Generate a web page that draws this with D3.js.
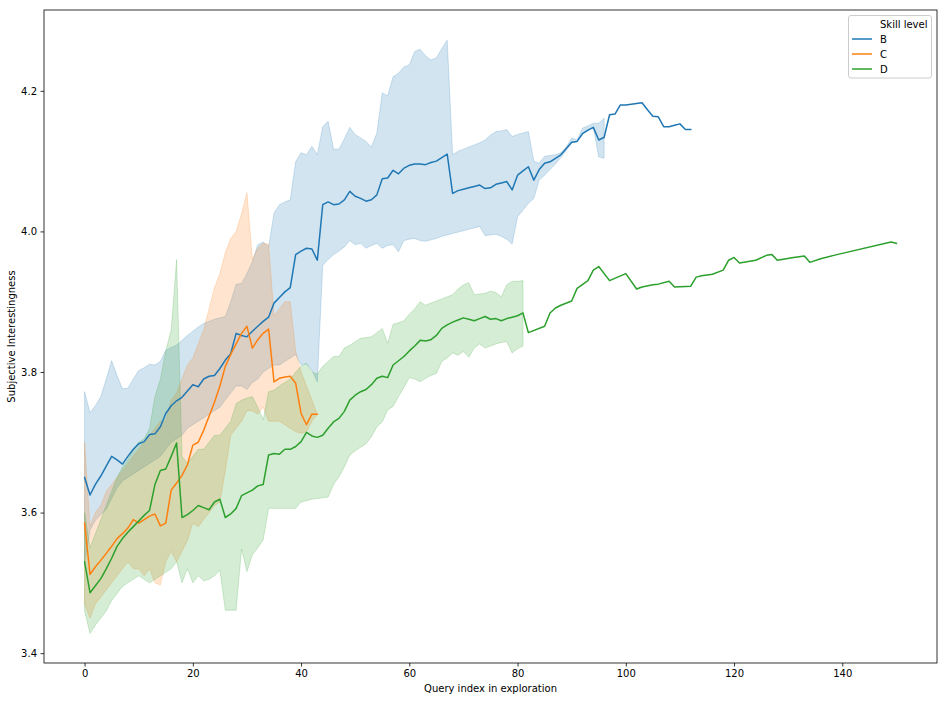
<!DOCTYPE html>
<html><head><meta charset="utf-8">
<script src="https://cdn.jsdelivr.net/npm/d3@7"></script>
<style>body{margin:0;background:#fff;} text{font-family:"DejaVu Sans",sans-serif;}</style>
</head><body><svg id="c" width="947" height="701"></svg>
<script>
// ---- data ----
const seriesNames = ["B", "C", "D"];
const legendTitle = "Skill level";
const xLabel = "Query index in exploration";
const yLabel = "Subjective Interestingness";
const xTicks = [0, 20, 40, 60, 80, 100, 120, 140];
const yTicks = [3.4, 3.6, 3.8, 4.0, 4.2];

const bMean = [
 3.650,3.625,3.640,3.652,3.666,3.680,3.675,3.669,3.680,3.690,
 3.698,3.701,3.711,3.712,3.722,3.741,3.752,3.759,3.764,3.773,
 3.782,3.779,3.790,3.794,3.795,3.805,3.817,3.826,3.855,3.852,
 3.850,3.858,3.865,3.872,3.878,3.898,3.906,3.914,3.920,3.967,
 3.972,3.976,3.975,3.959,4.038,4.042,4.038,4.039,4.045,4.057,
 4.050,4.047,4.043,4.045,4.052,4.075,4.076,4.087,4.082,4.090,
 4.094,4.096,4.096,4.095,4.098,4.100,4.105,4.110,4.054,4.058,
 4.060,4.062,4.064,4.066,4.061,4.062,4.067,4.069,4.071,4.059,
 4.080,4.086,4.092,4.073,4.088,4.097,4.099,4.104,4.109,4.118,
 4.127,4.128,4.139,4.144,4.148,4.130,4.134,4.166,4.167,4.180,
 4.180,4.181,4.182,4.183,4.173,4.164,4.163,4.149,4.149,4.151,
 4.153,4.145,4.145];
const bUpper = [
 3.772,3.742,3.752,3.765,3.790,3.816,3.795,3.776,3.777,3.790,
 3.802,3.806,3.811,3.810,3.815,3.831,3.835,3.838,3.845,3.852,
 3.858,3.864,3.869,3.872,3.875,3.877,3.879,3.900,3.925,3.926,
 3.940,3.957,3.981,3.985,3.978,4.026,4.038,4.042,4.045,4.099,
 4.112,4.109,4.121,4.109,4.149,4.157,4.117,4.117,4.132,4.148,
 4.138,4.133,4.128,4.120,4.140,4.197,4.193,4.220,4.225,4.234,
 4.237,4.256,4.259,4.250,4.244,4.247,4.260,4.272,4.109,4.114,
 4.117,4.120,4.123,4.126,4.130,4.137,4.142,4.143,4.145,4.135,
 4.138,4.140,4.142,4.100,4.097,4.107,4.108,4.109,4.112,4.120,
 4.133,4.130,4.147,4.150,4.154,4.154,4.161];
const bLower = [
 3.530,3.575,3.589,3.597,3.605,3.620,3.635,3.645,3.650,3.655,
 3.660,3.665,3.670,3.675,3.680,3.690,3.700,3.705,3.710,3.720,
 3.725,3.730,3.735,3.740,3.745,3.750,3.760,3.770,3.780,3.780,
 3.775,3.785,3.790,3.800,3.805,3.810,3.810,3.815,3.820,3.825,
 3.810,3.812,3.803,3.786,3.952,3.960,3.967,3.972,3.978,3.987,
 3.981,3.983,3.976,3.980,3.983,3.976,3.980,3.981,3.971,3.987,
 3.989,3.990,3.987,3.986,3.988,3.990,3.993,3.995,3.997,3.999,
 4.001,4.003,4.005,4.007,3.994,3.995,3.996,3.993,3.989,3.982,
 4.021,4.030,4.040,4.047,4.073,4.080,4.088,4.096,4.105,4.115,
 4.126,4.128,4.139,4.143,4.148,4.106,4.104];

const cMean = [
 3.585,3.512,3.523,3.532,3.542,3.552,3.563,3.570,3.578,3.590,
 3.585,3.590,3.595,3.598,3.581,3.585,3.632,3.642,3.653,3.668,
 3.696,3.700,3.717,3.737,3.757,3.780,3.808,3.825,3.840,3.855,
 3.865,3.834,3.846,3.855,3.861,3.786,3.791,3.793,3.794,3.784,
 3.741,3.725,3.740,3.740];
const cUpper = [
 3.700,3.580,3.600,3.610,3.630,3.640,3.650,3.660,3.670,3.680,
 3.690,3.700,3.710,3.720,3.730,3.730,3.760,3.770,3.790,3.810,
 3.820,3.840,3.860,3.890,3.920,3.940,3.970,3.990,4.000,4.025,
 4.055,3.960,3.976,3.983,3.982,3.880,3.890,3.900,3.900,3.830,
 3.800,3.780,3.760,3.740];
const cLower = [
 3.470,3.450,3.470,3.480,3.490,3.500,3.510,3.520,3.530,3.520,
 3.520,3.510,3.520,3.500,3.497,3.530,3.545,3.530,3.545,3.560,
 3.585,3.580,3.590,3.600,3.610,3.615,3.660,3.710,3.720,3.730,
 3.745,3.745,3.740,3.750,3.730,3.730,3.730,3.725,3.720,3.715,
 3.713,3.715,3.730,3.740];

const dMeanEarly = [
 3.530,3.486,3.496,3.506,3.520,3.535,3.552,3.563,3.572,3.580,
 3.588,3.596,3.603,3.640,3.660,3.662,3.680,3.699,3.593,3.597,
 3.603,3.610,3.607,3.604,3.615,3.619,3.593,3.598,3.606,3.624,
 3.628,3.632,3.638,3.640,3.682,3.684,3.683,3.690,3.690,3.694,
 3.701,3.714,3.709,3.707,3.710,3.720,3.729,3.734,3.744,3.760,
 3.767,3.772,3.775,3.782,3.791,3.794,3.792,3.810,3.816,3.822,
 3.830,3.837,3.845,3.844,3.846,3.852,3.862,3.867,3.871,3.874,
 3.877,3.875,3.873,3.876,3.879,3.875,3.876,3.873,3.876,3.878,
 3.880,3.884];
const dTailX = [82,85,86,87,88,90,91,93,94,95,97,100,102,103,105,106,108,109,112,113,
 114,116,118,119,120,121,124,126,127,128,131,133,134,136,139,149,150];
const dTailMean = [3.856,3.865,3.884,3.891,3.895,3.901,3.919,3.930,3.945,3.950,
 3.930,3.940,3.918,3.921,3.924,3.925,3.929,3.921,3.922,3.935,
 3.937,3.939,3.945,3.959,3.963,3.955,3.959,3.966,3.967,3.959,
 3.963,3.965,3.956,3.961,3.967,3.985,3.983];
const dUpper = [
 3.600,3.550,3.570,3.590,3.610,3.630,3.650,3.665,3.675,3.690,
 3.700,3.705,3.720,3.765,3.790,3.830,3.860,3.960,3.680,3.670,
 3.680,3.690,3.690,3.700,3.710,3.710,3.720,3.730,3.755,3.760,
 3.763,3.765,3.750,3.732,3.772,3.774,3.780,3.785,3.790,3.800,
 3.808,3.812,3.800,3.797,3.808,3.815,3.822,3.822,3.834,3.838,
 3.843,3.848,3.849,3.850,3.856,3.862,3.841,3.868,3.870,3.873,
 3.882,3.890,3.900,3.895,3.898,3.901,3.904,3.907,3.910,3.918,
 3.924,3.927,3.910,3.911,3.912,3.915,3.913,3.907,3.924,3.929,
 3.929,3.930];
const dLower = [
 3.460,3.428,3.440,3.450,3.460,3.475,3.485,3.495,3.500,3.505,
 3.510,3.505,3.500,3.505,3.510,3.515,3.520,3.530,3.500,3.520,
 3.500,3.510,3.503,3.505,3.510,3.518,3.461,3.461,3.461,3.548,
 3.516,3.540,3.550,3.561,3.606,3.606,3.606,3.606,3.606,3.606,
 3.615,3.617,3.619,3.620,3.621,3.622,3.640,3.651,3.665,3.682,
 3.688,3.693,3.698,3.708,3.722,3.729,3.746,3.751,3.765,3.778,
 3.792,3.790,3.786,3.791,3.795,3.798,3.815,3.820,3.827,3.824,
 3.829,3.821,3.834,3.840,3.834,3.837,3.840,3.842,3.843,3.827,
 3.833,3.837];

const colors = {B: "#1f77b4", C: "#ff7f0e", D: "#2ca02c"};

// ---- build series ----
const bLine = bMean.map((v, i) => ({x: i, y: v}));
const bBand = bUpper.map((v, i) => ({x: i, lo: bLower[i], hi: v}));
const cLine = cMean.map((v, i) => ({x: i, y: v}));
const cBand = cUpper.map((v, i) => ({x: i, lo: cLower[i], hi: v}));
const dLine = dMeanEarly.map((v, i) => ({x: i, y: v}))
  .concat(dTailX.map((xv, i) => ({x: xv, y: dTailMean[i]})));
const dBand = dUpper.map((v, i) => ({x: i, lo: dLower[i], hi: v}));

const series = [
  {name: "B", line: bLine, band: bBand},
  {name: "C", line: cLine, band: cBand},
  {name: "D", line: dLine, band: dBand}
];

// ---- layout ----
const L = 44, R = 937, T = 10, B = 663;
const x = d3.scaleLinear().domain([-7.5, 157.5]).range([L, R]);
const y = d3.scaleLinear().domain([3.386, 4.315]).range([B, T]);
const svg = d3.select("#c");
svg.append("rect").attr("width", 947).attr("height", 701).attr("fill", "#fff");

svg.append("defs").append("clipPath").attr("id", "clip")
  .append("rect").attr("x", L).attr("y", T).attr("width", R - L).attr("height", B - T);
const plot = svg.append("g").attr("clip-path", "url(#clip)");

const area = d3.area().x(d => x(d.x)).y0(d => y(d.lo)).y1(d => y(d.hi));
const line = d3.line().x(d => x(d.x)).y(d => y(d.y));

series.forEach(s => {
  plot.append("path").datum(s.band).attr("d", area)
    .attr("fill", colors[s.name]).attr("fill-opacity", 0.2)
    .attr("stroke", colors[s.name]).attr("stroke-opacity", 0.2).attr("stroke-width", 1);
});
series.forEach(s => {
  plot.append("path").datum(s.line).attr("d", line)
    .attr("fill", "none").attr("stroke", colors[s.name]).attr("stroke-width", 1.5)
    .attr("stroke-linejoin", "round").attr("stroke-linecap", "square");
});

// ---- axes ----
const xAxis = d3.axisBottom(x).tickValues(xTicks).tickFormat(d3.format("d"))
  .tickSize(3.5).tickPadding(3.5).tickSizeOuter(0);
const yAxis = d3.axisLeft(y).tickValues(yTicks).tickFormat(d3.format(".1f"))
  .tickSize(3.5).tickPadding(3.5).tickSizeOuter(0);
const gx = svg.append("g").attr("transform", `translate(0,${B})`).call(xAxis);
const gy = svg.append("g").attr("transform", `translate(${L},0)`).call(yAxis);
[gx, gy].forEach(g => {
  g.select(".domain").remove();
  g.selectAll(".tick line").attr("stroke", "#000").attr("stroke-width", 0.8);
  g.selectAll(".tick text").attr("font-size", 10).attr("fill", "#000")
    .attr("font-family", "DejaVu Sans");
});

svg.append("rect").attr("x", L).attr("y", T).attr("width", R - L).attr("height", B - T)
  .attr("fill", "none").attr("stroke", "#000").attr("stroke-width", 0.8);

svg.append("text").attr("x", (L + R) / 2).attr("y", 692).attr("text-anchor", "middle")
  .attr("font-size", 10).text(xLabel);
svg.append("text").attr("transform", `translate(15,${(T + B) / 2}) rotate(-90)`)
  .attr("text-anchor", "middle").attr("font-size", 10).text(yLabel);

// ---- legend ----
const lg = svg.append("g");
lg.append("rect").attr("x", 848.5).attr("y", 15.5).attr("width", 83).attr("height", 62.5)
  .attr("rx", 2.5).attr("fill", "#fff").attr("fill-opacity", 0.8)
  .attr("stroke", "#cccccc").attr("stroke-width", 1);
lg.append("text").attr("x", 880).attr("y", 24.5).attr("dy", "0.35em")
  .attr("font-size", 10).text(legendTitle);
seriesNames.forEach((n, i) => {
  const cy = 39 + i * 15;
  lg.append("line").attr("x1", 852).attr("x2", 872).attr("y1", cy).attr("y2", cy)
    .attr("stroke", colors[n]).attr("stroke-width", 1.5);
  lg.append("text").attr("x", 880).attr("y", cy).attr("dy", "0.35em")
    .attr("font-size", 10).text(n);
});
</script>
</body></html>
